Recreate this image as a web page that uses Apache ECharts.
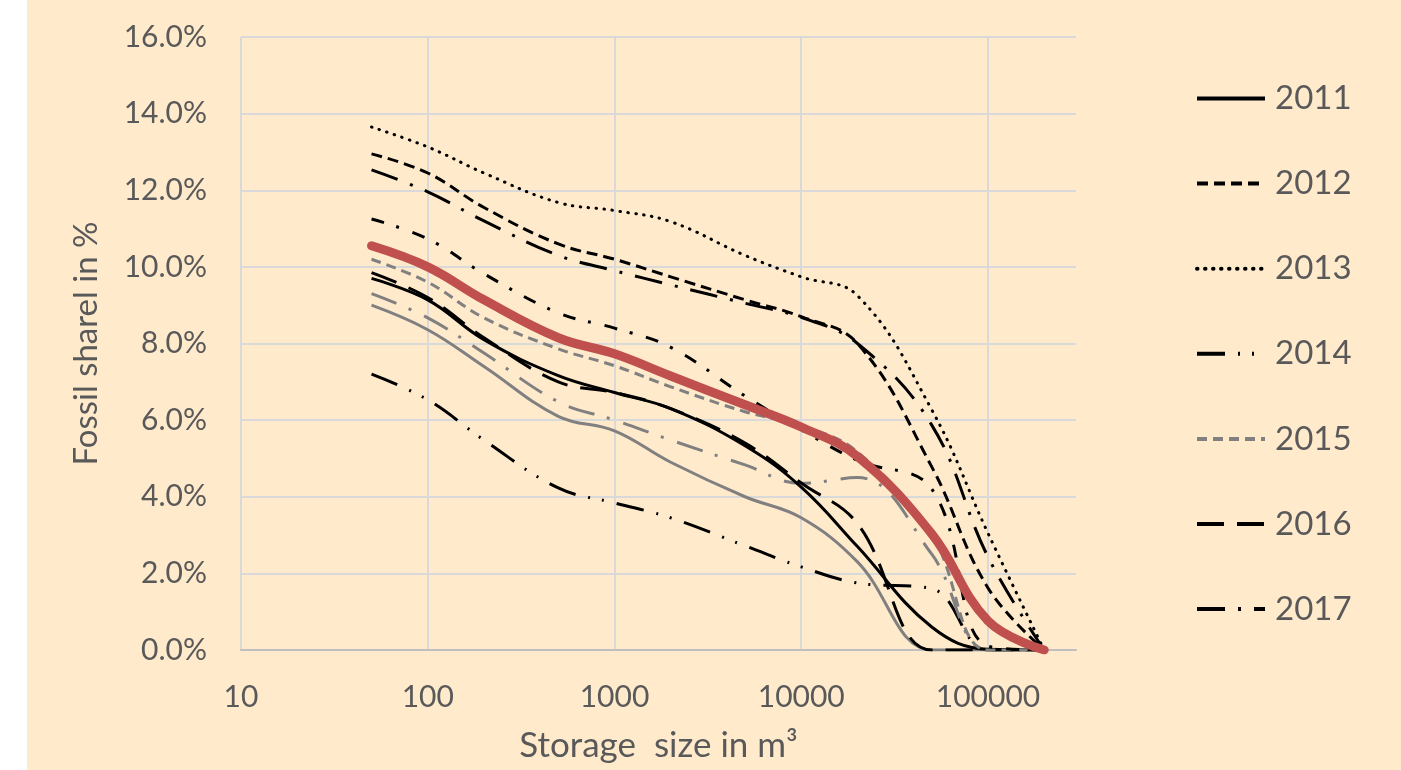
<!DOCTYPE html>
<html>
<head>
<meta charset="utf-8">
<script src="https://cdn.jsdelivr.net/npm/echarts@6/dist/echarts.min.js"></script>
<style>
  html, body { margin: 0; padding: 0; background: #ffffff; width: 1401px; height: 770px; overflow: hidden; }
  #c { position: absolute; left: 27px; top: 0; width: 1374px; height: 770px; background: #FFEACC; }
</style>
</head>
<body>
<div id="c"></div>
<script>
// Storage sizes (m³) at which each curve is sampled
const sizes = [50, 100, 200, 500, 1000, 2000, 5000, 10000, 20000, 50000, 100000, 200000];

// Fossil share in % (legend series)
const y2011 = [9.7, 9.14, 8.1, 7.16, 6.72, 6.3, 5.33, 4.25, 2.7, 0.6, 0.02, 0];
const y2012 = [12.95, 12.45, 11.55, 10.6, 10.2, 9.74, 9.14, 8.7, 8.0, 4.78, 1.62, 0];
const y2013 = [13.65, 13.13, 12.45, 11.68, 11.47, 11.18, 10.3, 9.74, 9.25, 6.27, 3.05, 0];
const y2014 = [7.2, 6.53, 5.48, 4.23, 3.84, 3.45, 2.72, 2.17, 1.75, 1.6, 0, 0];
const y2015 = [10.2, 9.6, 8.67, 7.86, 7.42, 6.87, 6.22, 5.85, 5.17, 3.0, 0, 0];
const y2016 = [9.85, 9.2, 8.15, 7.0, 6.72, 6.3, 5.4, 4.36, 3.3, 0, 0, 0];
const y2017 = [12.53, 11.96, 11.2, 10.3, 9.9, 9.53, 9.05, 8.68, 8.0, 5.87, 2.43, 0];

// Additional curves drawn without legend entries
const extraDashDot = [11.25, 10.73, 9.82, 8.8, 8.4, 7.9, 6.63, 5.75, 4.95, 4.2, 0.1, 0];
const extraGrayDashDot = [9.3, 8.67, 7.75, 6.48, 6.0, 5.48, 4.83, 4.35, 4.5, 2.5, 0, 0];
const extraGraySolid = [9.0, 8.36, 7.4, 6.1, 5.72, 4.9, 4.0, 3.45, 2.3, 0, 0, 0];
const extraRed = [10.55, 10.0, 9.14, 8.15, 7.73, 7.15, 6.4, 5.82, 5.05, 3.03, 0.76, 0];

const legendNames = ['2011', '2012', '2013', '2014', '2015', '2016', '2017'];

const FONT = 'Lato';
const TXT = '#595959';

function pts(arr) { return sizes.map((s, i) => [s, arr[i]]); }

function line(name, arr, color, width, type, cap) {
  return {
    name: name, type: 'line', data: pts(arr), smooth: 0.4, symbol: 'none',
    lineStyle: { color: color, width: width, type: type, cap: cap || 'butt', join: 'round' },
    itemStyle: { color: color },
    emphasis: { disabled: true }, z: 2
  };
}

const chart = echarts.init(document.getElementById('c'), null, { renderer: 'canvas' });
chart.setOption({
  animation: false,
  backgroundColor: '#FFEACC',
  grid: { left: 214, right: 325, top: 37, bottom: 120 },
  legend: {
    data: legendNames,
    orient: 'vertical',
    left: 1168, top: 82,
    padding: 0,
    itemWidth: 68, itemHeight: 36, itemGap: 52.1,
    lineStyle: { width: 4 },
    itemStyle: { color: 'rgba(0,0,0,0)', borderWidth: 0, opacity: 0 },
    textStyle: { fontFamily: FONT, fontSize: 33, color: TXT, padding: [0, 0, 0, 5] },
    selectedMode: false
  },
  xAxis: {
    type: 'log', logBase: 10, min: 10, max: 296000,
    name: 'Storage  size in m³', nameLocation: 'middle', nameGap: 78,
    nameTextStyle: { fontFamily: FONT, fontSize: 35, color: TXT },
    axisLine: { show: true, lineStyle: { color: '#BFBFBF', width: 2 } },
    axisTick: { show: false },
    minorTick: { show: false },
    splitLine: { show: true, showMaxLine: false, lineStyle: { color: '#D9D9D9', width: 2 } },
    axisLabel: {
      fontFamily: FONT, fontSize: 30, color: TXT, margin: 32, showMaxLabel: false,
      formatter: function (v) {
        const e = Math.log10(v);
        return Math.abs(e - Math.round(e)) < 1e-6 ? String(Math.round(v)) : '';
      }
    }
  },
  yAxis: {
    type: 'value', min: 0, max: 16, interval: 2,
    name: 'Fossil sharel in %', nameLocation: 'middle', nameGap: 138,
    nameTextStyle: { fontFamily: FONT, fontSize: 33, color: TXT },
    axisLine: { show: false }, axisTick: { show: false },
    splitLine: { show: true, lineStyle: { color: '#D9D9D9', width: 2 } },
    axisLabel: { fontFamily: FONT, fontSize: 30, color: TXT, margin: 34,
      formatter: function (v) { return v.toFixed(1) + '%'; } }
  },
  series: [
    line('2014', y2014, '#000000', 3, [28, 13, 2, 12, 2, 13]),
    line('Series A', extraGraySolid, '#808080', 3, 'solid'),
    line('Series B', extraGrayDashDot, '#808080', 3, [27, 13, 3, 14]),
    line('2011', y2011, '#000000', 3, 'solid'),
    line('2016', y2016, '#000000', 3, [27, 13]),
    line('2015', y2015, '#808080', 3, [10, 6]),
    line('Series C', extraDashDot, '#000000', 3, [13, 13, 3, 14]),
    line('2017', y2017, '#000000', 3, [28, 13, 3, 13]),
    line('2012', y2012, '#000000', 3, [11, 6]),
    line('2013', y2013, '#000000', 3, [0.5, 7.5], 'round'),
    line('Series D', extraRed, '#C0504D', 9, 'solid', 'round')
  ]
});
</script>
</body>
</html>
